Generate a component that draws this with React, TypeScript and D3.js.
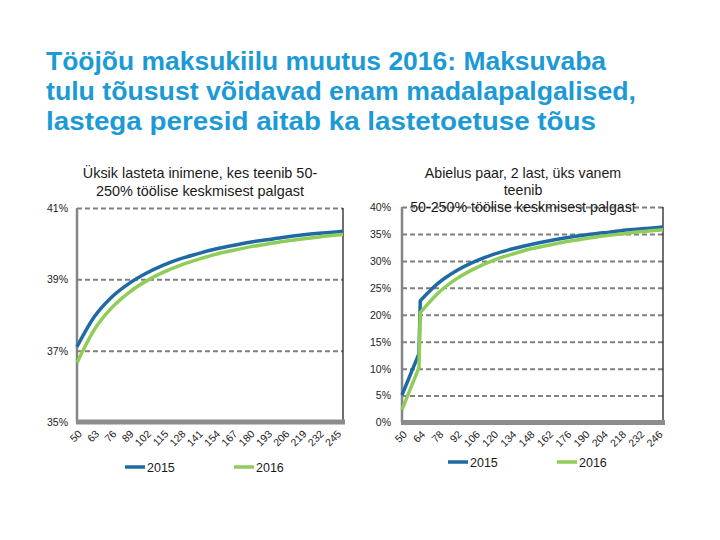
import React from "react";
import * as d3 from "d3";

// Title lines
const titleLines = [
  "Tööjõu maksukiilu muutus 2016: Maksuvaba",
  "tulu tõusust võidavad enam madalapalgalised,",
  "lastega peresid aitab ka lastetoetuse tõus",
];

// Left panel: single person without children
const leftSubtitle = ["Üksik lasteta inimene, kes teenib 50-", "250% töölise keskmisest palgast"];
const leftCats = [50, 63, 76, 89, 102, 115, 128, 141, 154, 167, 180, 193, 206, 219, 232, 245, 250];
const left2015 = [37.11, 37.95, 38.5, 38.88, 39.17, 39.4, 39.58, 39.72, 39.85, 39.95, 40.04, 40.11, 40.18, 40.24, 40.29, 40.33, 40.35];
const left2016 = [36.66, 37.59, 38.2, 38.63, 38.95, 39.2, 39.4, 39.56, 39.7, 39.81, 39.91, 39.99, 40.07, 40.13, 40.19, 40.24, 40.26];
const leftTicks = [50, 63, 76, 89, 102, 115, 128, 141, 154, 167, 180, 193, 206, 219, 232, 245];
const leftYTicks = [35, 37, 39, 41];

// Right panel: married couple, 2 children, one earner
const rightSubtitle = ["Abielus paar, 2 last, üks vanem", "teenib", "50-250% töölise keskmisest palgast"];
const rightCats = [50, 63, 64, 78, 92, 106, 120, 134, 148, 162, 176, 190, 204, 218, 232, 246, 250];
const right2015 = [5.1, 12.8, 22.6, 25.9, 28.2, 29.9, 31.2, 32.2, 33.0, 33.7, 34.3, 34.8, 35.2, 35.6, 35.9, 36.2, 36.3];
const right2016 = [2.4, 10.2, 20.4, 24.1, 26.7, 28.6, 30.1, 31.2, 32.2, 32.9, 33.6, 34.1, 34.6, 35.0, 35.4, 35.7, 35.8];
const rightTicks = [50, 64, 78, 92, 106, 120, 134, 148, 162, 176, 190, 204, 218, 232, 246];
const rightYTicks = [0, 5, 10, 15, 20, 25, 30, 35, 40];

const seriesNames = ["2015", "2016"];
const colors = ["#1f6aa5", "#8fcd58"];
const FONT = "'Liberation Sans', Arial, sans-serif";

interface Panel {
  x0: number; x1: number; yTop: number; yBot: number;
  yDomain: [number, number];
  yTicks: number[];
  cats: number[];
  series: number[][];
  linearUntil: number; // index up to which the line is straight (the jump)
  xTicks: number[];
  subtitle: string[];
  subX: number; subY: number[]; subSize: number;
  legendY: number; legendX: [number, number];
  yLabelGap: number;
}

const panels: Panel[] = [
  {
    x0: 77, x1: 343, yTop: 208, yBot: 422,
    yDomain: [35, 41], yTicks: leftYTicks,
    cats: leftCats, series: [left2015, left2016], linearUntil: 0, xTicks: leftTicks,
    subtitle: leftSubtitle, subX: 200, subY: [178, 196], subSize: 14.4,
    legendY: 467, legendX: [125, 234], yLabelGap: 9,
  },
  {
    x0: 402, x1: 663, yTop: 207, yBot: 422.5,
    yDomain: [0, 40], yTicks: rightYTicks,
    cats: rightCats, series: [right2015, right2016], linearUntil: 2, xTicks: rightTicks,
    subtitle: rightSubtitle, subX: 523, subY: [178, 195, 212], subSize: 14.2,
    legendY: 462, legendX: [448, 557], yLabelGap: 11,
  },
];

const App = () => {
  const svgRef = React.useRef(null);

  React.useEffect(() => {
    const svg = d3.select(svgRef.current);
    svg.selectAll("*").remove();

    svg.append("rect").attr("width", 720).attr("height", 540).attr("fill", "white");

    // Title
    const tw = [560, 590, 550];
    titleLines.forEach((t, i) => {
      svg.append("text")
        .attr("x", 46).attr("y", 70 + i * 30)
        .attr("font-family", FONT).attr("font-weight", "bold")
        .attr("font-size", 25).attr("fill", "#1b9ad6")
        .attr("textLength", tw[i]).attr("lengthAdjust", "spacingAndGlyphs")
        .text(t);
    });

    panels.forEach((p) => {
      const g = svg.append("g");
      const xScale = d3.scaleLinear().domain([50, 250]).range([p.x0, p.x1]);
      const yScale = d3.scaleLinear().domain(p.yDomain).range([p.yBot, p.yTop]);

      // grid lines
      const yAxis = d3.axisLeft(yScale)
        .tickValues(p.yTicks)
        .tickSize(-(p.x1 - p.x0))
        .tickPadding(p.yLabelGap)
        .tickFormat((v) => `${v}%`);
      const yg = g.append("g").attr("transform", `translate(${p.x0},0)`).call(yAxis);
      yg.select(".domain").remove();
      yg.selectAll("line")
        .attr("stroke", "#7f7f7f").attr("stroke-width", 2)
        .attr("stroke-dasharray", "5,3")
        .filter((d) => d === p.yDomain[0]).remove();
      yg.selectAll("text")
        .attr("font-family", FONT).attr("font-size", 10.5).attr("fill", "#222");

      // right border
      g.append("line")
        .attr("x1", p.x1).attr("x2", p.x1).attr("y1", p.yTop).attr("y2", p.yBot)
        .attr("stroke", "#222").attr("stroke-width", 1.3);
      // left axis
      g.append("line")
        .attr("x1", p.x0).attr("x2", p.x0).attr("y1", p.yTop).attr("y2", p.yBot)
        .attr("stroke", "#858585").attr("stroke-width", 2.5);

      // series lines: straight part before the jump, smooth curve after it
      const pts = (s: number[]) => s.map((v, i) => [xScale(p.cats[i]), yScale(v)] as [number, number]);
      const straight = d3.line().curve(d3.curveLinear);
      const smooth = d3.line().curve(d3.curveMonotoneX);
      p.series.forEach((s, i) => {
        const all = pts(s);
        const d =
          (p.linearUntil > 0 ? straight(all.slice(0, p.linearUntil + 1)) : "") +
          (smooth(all.slice(p.linearUntil)) as string).replace(/^M/, p.linearUntil > 0 ? "L" : "M");
        g.append("path")
          .attr("fill", "none")
          .attr("stroke", colors[i])
          .attr("stroke-width", 3.5)
          .attr("stroke-linejoin", "round")
          .attr("d", d);
      });

      // bottom axis
      g.append("line")
        .attr("x1", p.x0 - 1).attr("x2", p.x1 + 2).attr("y1", p.yBot).attr("y2", p.yBot)
        .attr("stroke", "#8c8c8c").attr("stroke-width", 5);

      // x tick labels
      p.xTicks.forEach((t) => {
        const x = xScale(t) + 3;
        const y = p.yBot + 10;
        g.append("text")
          .attr("transform", `translate(${x},${y}) rotate(-45)`)
          .attr("text-anchor", "end")
          .attr("dy", "0.35em")
          .attr("font-family", FONT).attr("font-size", 10.5).attr("fill", "#222")
          .text(t);
      });

      // subtitle
      p.subtitle.forEach((t, i) => {
        g.append("text")
          .attr("x", p.subX).attr("y", p.subY[i])
          .attr("text-anchor", "middle")
          .attr("font-family", FONT).attr("font-size", p.subSize).attr("fill", "#1a1a1a")
          .text(t);
      });

      // legend
      seriesNames.forEach((n, i) => {
        const lx = p.legendX[i];
        g.append("line")
          .attr("x1", lx).attr("x2", lx + 20)
          .attr("y1", p.legendY).attr("y2", p.legendY)
          .attr("stroke", colors[i]).attr("stroke-width", 3.5);
        g.append("text")
          .attr("x", lx + 22).attr("y", p.legendY + 4.5)
          .attr("font-family", FONT).attr("font-size", 12.5).attr("fill", "#1a1a1a")
          .text(n);
      });
    });
  }, []);

  return (
    <svg
      ref={svgRef}
      width={720}
      height={540}
      style={{ position: "absolute", left: 0, top: 0 }}
    />
  );
};

export default App;
